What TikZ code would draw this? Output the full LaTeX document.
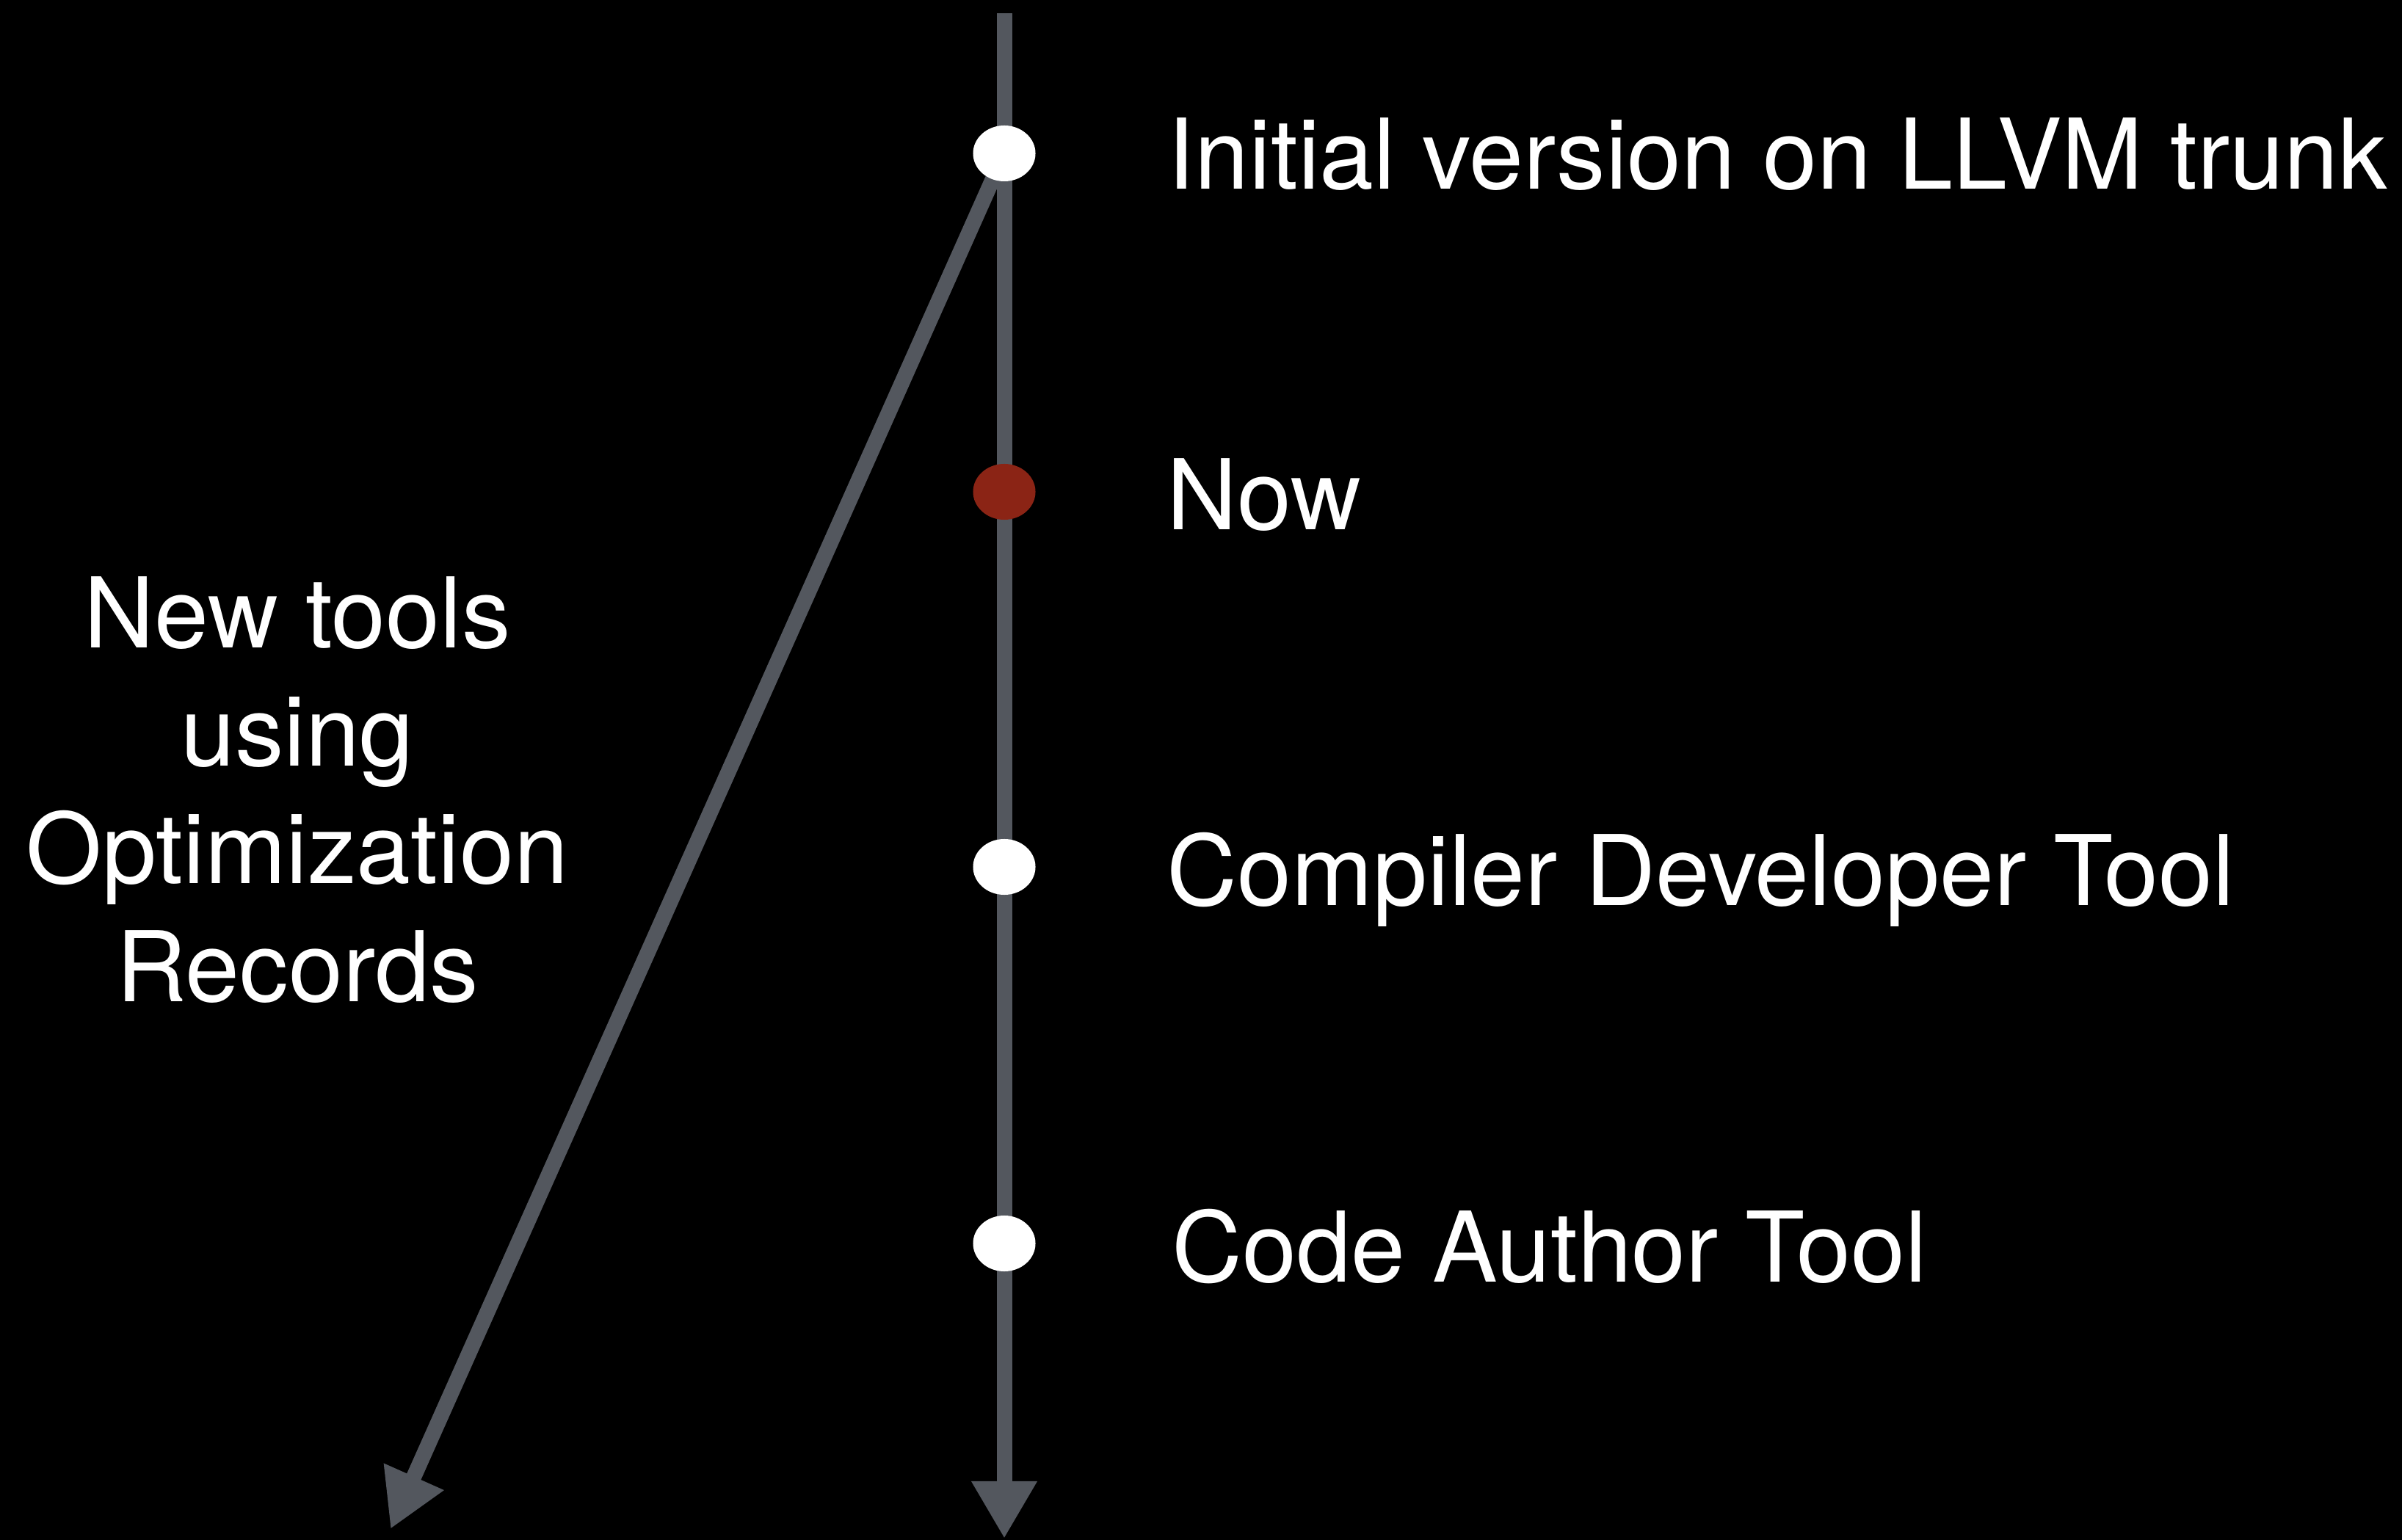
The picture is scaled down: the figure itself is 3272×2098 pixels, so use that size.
\documentclass[tikz,border=0pt]{standalone}
\usepackage{fontspec}
\setmainfont{TeX Gyre Heros}
\usetikzlibrary{arrows.meta,shapes.geometric}
\definecolor{trackgray}{HTML}{53575E}
\definecolor{nowred}{HTML}{8B2415}
\tikzset{
  track/.style={draw=trackgray, line width=0.21cm,
    -{Triangle[length=0.78cm, width=0.84cm]}},
  milestone/.style={ellipse, fill=white, draw=none, inner sep=0pt,
    minimum width=0.85cm, minimum height=0.76cm},
  label/.style={text=white, inner sep=0pt, anchor=base west,
    font=\fontsize{37.8pt}{45.5pt}\selectfont},
  sidenote/.style={text=white, inner sep=0pt, anchor=base,
    font=\fontsize{37.8pt}{45.5pt}\selectfont},
}
\begin{document}
\begin{tikzpicture}[x=0.01cm, y=-0.01cm]
  % canvas
  \fill[black] (0,0) rectangle (3272,2098);
  \useasboundingbox (0,0) rectangle (3272,2098);

  % end points of the two timelines
  \coordinate (top) at (1368,18);
  \coordinate (bottom) at (1368,2096);
  \coordinate (branchend) at (532,2083);

  % milestone positions
  \coordinate (p1) at (1368,209);
  \coordinate (p2) at (1368,670);
  \coordinate (p3) at (1368,1181);
  \coordinate (p4) at (1368,1694);

  % timelines
  \draw[track] (top) -- (bottom);
  \draw[track] (p1) -- (branchend);

  % milestones
  \node[milestone] (m1) at (p1) {};
  \node[milestone, fill=nowred] (m2) at (p2) {};
  \node[milestone] (m3) at (p3) {};
  \node[milestone] (m4) at (p4) {};

  % milestone labels
  \node[label] (l1) at (1590,258) {Initial version on LLVM trunk};
  \node[label] (l2) at (1589,722) {Now};
  \node[label] (l3) at (1589,1233) {Compiler Developer Tool};
  \node[label] (l4) at (1596,1746) {Code Author Tool};

  % branch caption
  \node[sidenote] (s1) at (405,883) {New tools};
  \node[sidenote] (s2) at (405,1044) {using};
  \node[sidenote] (s3) at (405,1204) {Optimization};
  \node[sidenote] (s4) at (405,1364) {Records};
\end{tikzpicture}
\end{document}
